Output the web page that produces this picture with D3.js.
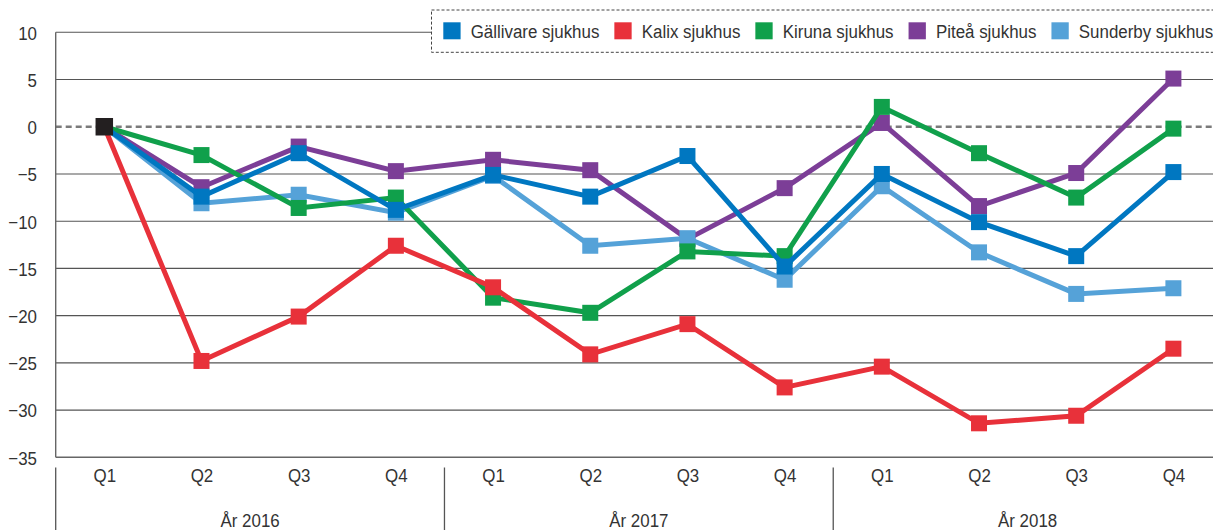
<!DOCTYPE html>
<html>
<head>
<meta charset="utf-8">
<script src="https://cdn.jsdelivr.net/npm/d3@7"></script>
<style>
  html, body { margin: 0; padding: 0; background: #fff; }
  svg { display: block; }
  text { font-family: "Liberation Sans", Arial, sans-serif; fill: #333; }
</style>
</head>
<body>
<svg id="chart" width="1213" height="530"></svg>
<script>
// Quarterly change per hospital, index 0 = Q1 2016
const quarters = ["Q1", "Q2", "Q3", "Q4", "Q1", "Q2", "Q3", "Q4", "Q1", "Q2", "Q3", "Q4"];
const years = ["År 2016", "År 2017", "År 2018"];
const yTicks = [10, 5, 0, -5, -10, -15, -20, -25, -30, -35];

const gallivare = [0, -7.4, -2.8, -8.8, -5.1, -7.4, -3.1, -14.8, -5.0, -10.1, -13.7, -4.8];
const kalix     = [0, -24.8, -20.1, -12.6, -17.0, -24.1, -20.9, -27.6, -25.4, -31.4, -30.6, -23.5];
const kiruna    = [0, -3.0, -8.6, -7.5, -18.1, -19.7, -13.2, -13.7, 2.1, -2.8, -7.5, -0.2];
const pitea     = [0, -6.4, -2.1, -4.7, -3.5, -4.6, -11.9, -6.5, 0.4, -8.4, -4.9, 5.1];
const sunderby  = [0, -8.1, -7.2, -9.1, -5.2, -12.6, -11.8, -16.2, -6.3, -13.3, -17.7, -17.1];

const seriesNames = ["Gällivare sjukhus", "Kalix sjukhus", "Kiruna sjukhus", "Piteå sjukhus", "Sunderby sjukhus"];
const seriesColors = ["#0077c1", "#e8313a", "#10a04b", "#7c3e97", "#55a2d8"];
const seriesValues = [gallivare, kalix, kiruna, pitea, sunderby];
// paint order (later on top)
const drawOrder = [3, 4, 2, 1, 0];

const svg = d3.select("#chart");
const plotLeft = 55.7, plotRight = 1222, plotTop = 32.3, plotBottom = 457.3;
const fontSize = 19;
const squeeze = 0.89;   // horizontal condensing of the label type

const keys = quarters.map((q, i) => i);
const x = d3.scalePoint().domain(keys).range([plotLeft, plotRight]).padding(0.5);
const y = d3.scaleLinear().domain([-35, 10]).range([plotBottom, plotTop]);

// horizontal gridlines
svg.append("g").selectAll("line")
  .data(yTicks.filter(d => d !== 0))
  .join("line")
  .attr("x1", plotLeft).attr("x2", plotRight)
  .attr("y1", d => y(d)).attr("y2", d => y(d))
  .attr("stroke", d => d === -35 ? "#666" : "#555")
  .attr("stroke-width", d => d === -35 ? 1.6 : 1.1);

// zero reference line
svg.append("line")
  .attr("x1", plotLeft).attr("x2", plotRight)
  .attr("y1", y(0)).attr("y2", y(0))
  .attr("stroke", "#7a7a7a").attr("stroke-width", 2.6)
  .attr("stroke-dasharray", "6,4");

// left axis line
svg.append("line")
  .attr("x1", plotLeft).attr("x2", plotLeft)
  .attr("y1", plotTop).attr("y2", plotBottom)
  .attr("stroke", "#666").attr("stroke-width", 1.4);

// y tick labels
const yAxis = d3.axisLeft(y).tickValues(yTicks).tickSize(0).tickPadding(0);
const yg = svg.append("g").attr("transform", `translate(${plotLeft},0)`).call(yAxis);
yg.select(".domain").remove();
yg.selectAll("text")
  .attr("x", 0).attr("dy", "0.36em")
  .attr("text-anchor", "end")
  .attr("transform", `translate(-18.7,0) scale(${squeeze},1)`)
  .attr("font-size", fontSize)
  .attr("font-family", null)
  .attr("fill", "#333");

// quarter labels
const xAxis = d3.axisBottom(x).tickFormat(i => quarters[i]).tickSize(0).tickPadding(0);
const xg = svg.append("g").attr("transform", `translate(0,${plotBottom})`).call(xAxis);
xg.select(".domain").remove();
xg.selectAll("text")
  .attr("x", 0).attr("y", 25).attr("dy", 0)
  .attr("text-anchor", "middle")
  .attr("transform", `scale(${squeeze},1)`)
  .attr("font-size", fontSize)
  .attr("font-family", null)
  .attr("fill", "#333");

// year groups: separators and labels
const step = x.step();
const yearStart = i => x(i * 4) - step / 2;
svg.append("g").selectAll("line")
  .data([0, 1, 2])
  .join("line")
  .attr("x1", i => yearStart(i)).attr("x2", i => yearStart(i))
  .attr("y1", 467.5).attr("y2", 530)
  .attr("stroke", "#555").attr("stroke-width", 1.3);

svg.append("g").selectAll("text")
  .data(years)
  .join("text")
  .attr("transform", (d, i) => `translate(${yearStart(i) + step * 2},527) scale(${squeeze},1)`)
  .attr("text-anchor", "middle")
  .attr("font-size", fontSize)
  .text(d => d);

// series lines and markers
const line = d3.line().x((d, i) => x(i)).y(d => y(d));
const ms = 16;
drawOrder.forEach(k => {
  const g = svg.append("g");
  g.append("path")
    .datum(seriesValues[k])
    .attr("d", line)
    .attr("fill", "none")
    .attr("stroke", seriesColors[k])
    .attr("stroke-width", 5)
    .attr("stroke-linejoin", "miter");
  g.selectAll("rect")
    .data(seriesValues[k].map((v, i) => ({ v, i })).filter(d => d.i > 0))
    .join("rect")
    .attr("x", d => x(d.i) - ms / 2)
    .attr("y", d => y(d.v) - ms / 2)
    .attr("width", ms).attr("height", ms)
    .attr("fill", seriesColors[k]);
});

// shared starting point
const bs = 17.5;
svg.append("rect")
  .attr("x", x(0) - bs / 2).attr("y", y(gallivare[0]) - bs / 2)
  .attr("width", bs).attr("height", bs)
  .attr("fill", "#231f20");

// legend
const lg = svg.append("g");
lg.append("rect")
  .attr("x", 431.5).attr("y", 10)
  .attr("width", 820).attr("height", 42.3)
  .attr("fill", "#fff")
  .attr("stroke", "#444").attr("stroke-width", 1)
  .attr("stroke-dasharray", "3,2");

let lx = 443.3;
seriesNames.forEach((name, k) => {
  lg.append("rect")
    .attr("x", lx).attr("y", 22.3)
    .attr("width", 17.3).attr("height", 17)
    .attr("fill", seriesColors[k]);
  const t = lg.append("text")
    .attr("transform", `translate(${lx + 27.4},37.7) scale(${squeeze},1)`)
    .attr("font-size", fontSize)
    .text(name);
  lx = lx + 27.4 + t.node().getComputedTextLength() * squeeze + 15;
});
</script>
</body>
</html>
